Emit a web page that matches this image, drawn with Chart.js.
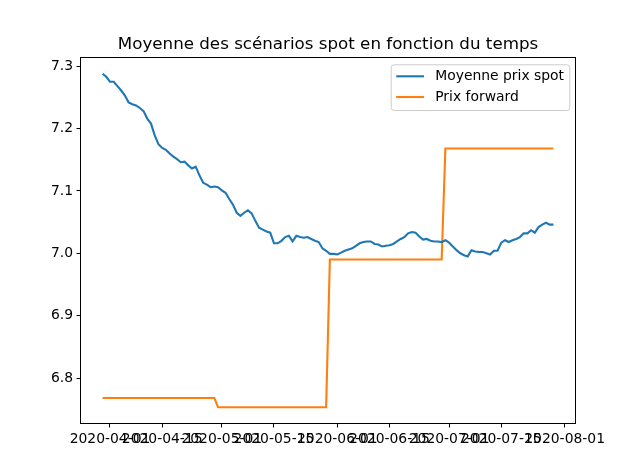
<!DOCTYPE html>
<html>
<head>
<meta charset="utf-8">
<script src="https://cdn.jsdelivr.net/npm/chart.js@4.4.1/dist/chart.umd.min.js"></script>
<style>
  html, body { margin: 0; padding: 0; background: #fff; }
  #wrap { width: 640px; height: 476px; }
</style>
</head>
<body>
<div id="wrap"><canvas id="chart" width="640" height="476"></canvas></div>
<script>
// Data (daily, 2020-03-30 .. 2020-07-29)
const START_DATE = "2020-03-30";
const SPOT = [
  7.288, 7.283, 7.275, 7.275, 7.268, 7.261, 7.253, 7.242, 7.239, 7.237,
  7.233, 7.228, 7.216, 7.208, 7.189, 7.175, 7.169, 7.166, 7.160, 7.155,
  7.151, 7.146, 7.147, 7.141, 7.136, 7.139, 7.125, 7.113, 7.110, 7.106,
  7.107, 7.106, 7.101, 7.097, 7.087, 7.078, 7.065, 7.060, 7.065, 7.069,
  7.064, 7.052, 7.041, 7.038, 7.035, 7.033, 7.016, 7.016, 7.020, 7.026,
  7.028, 7.019, 7.028, 7.026, 7.025, 7.026, 7.023, 7.020, 7.018, 7.008,
  7.004, 6.999, 6.999, 6.998, 7.001, 7.004, 7.006, 7.008, 7.012, 7.016,
  7.018, 7.019, 7.019, 7.015, 7.014, 7.011, 7.012, 7.013, 7.015, 7.019,
  7.023, 7.026, 7.032, 7.034, 7.033, 7.027, 7.022, 7.023, 7.020, 7.019,
  7.019, 7.018, 7.021, 7.017, 7.011, 7.005, 7.000, 6.997, 6.995, 7.005,
  7.003, 7.002, 7.002, 7.000, 6.998, 7.004, 7.004, 7.017, 7.021, 7.018,
  7.021, 7.023, 7.026, 7.032, 7.032, 7.037, 7.033, 7.042, 7.046, 7.049,
  7.046, 7.046,
];
const FORWARD = [
  6.768, 6.768, 6.768, 6.768, 6.768, 6.768, 6.768, 6.768, 6.768, 6.768,
  6.768, 6.768, 6.768, 6.768, 6.768, 6.768, 6.768, 6.768, 6.768, 6.768,
  6.768, 6.768, 6.768, 6.768, 6.768, 6.768, 6.768, 6.768, 6.768, 6.768,
  6.768, 6.753, 6.753, 6.753, 6.753, 6.753, 6.753, 6.753, 6.753, 6.753,
  6.753, 6.753, 6.753, 6.753, 6.753, 6.753, 6.753, 6.753, 6.753, 6.753,
  6.753, 6.753, 6.753, 6.753, 6.753, 6.753, 6.753, 6.753, 6.753, 6.753,
  6.753, 6.990, 6.990, 6.990, 6.990, 6.990, 6.990, 6.990, 6.990, 6.990,
  6.990, 6.990, 6.990, 6.990, 6.990, 6.990, 6.990, 6.990, 6.990, 6.990,
  6.990, 6.990, 6.990, 6.990, 6.990, 6.990, 6.990, 6.990, 6.990, 6.990,
  6.990, 6.990, 7.168, 7.168, 7.168, 7.168, 7.168, 7.168, 7.168, 7.168,
  7.168, 7.168, 7.168, 7.168, 7.168, 7.168, 7.168, 7.168, 7.168, 7.168,
  7.168, 7.168, 7.168, 7.168, 7.168, 7.168, 7.168, 7.168, 7.168, 7.168,
  7.168, 7.168,
];
const SERIES_LABELS = ["Moyenne prix spot", "Prix forward"];
const X_TICKS = [
  "2020-04-01", "2020-04-15", "2020-05-01", "2020-05-15", "2020-06-01",
  "2020-06-15", "2020-07-01", "2020-07-15", "2020-08-01",
];
const Y_TICKS = [6.8, 6.9, 7.0, 7.1, 7.2, 7.3];
const TITLE = "Moyenne des scénarios spot en fonction du temps";

const FONT = "'DejaVu Sans', sans-serif";
const DAY = 86400000;

const toDay = (s) => {
  const [y, m, d] = s.split("-").map(Number);
  return Date.UTC(y, m - 1, d) / DAY;
};
const fmtDay = (v) => new Date(Math.round(v) * DAY).toISOString().slice(0, 10);

const day0 = toDay(START_DATE);
const DAYS = SPOT.map((_, i) => day0 + i);

const spotPoints = DAYS.map((x, i) => ({ x, y: SPOT[i] }));
const fwdPoints = DAYS.map((x, i) => ({ x, y: FORWARD[i] }));

// matplotlib-like 5% margins
const xSpan = DAYS[DAYS.length - 1] - DAYS[0];
const allY = SPOT.concat(FORWARD);
const yLo = Math.min(...allY), yHi = Math.max(...allY);
const ySpan = yHi - yLo;

// Frame + title + legend drawn by hand, matplotlib style
const decorations = {
  id: "decorations",
  afterDatasetsDraw(chart) {
    const { ctx, chartArea: a } = chart;
    ctx.save();
    ctx.strokeStyle = "#000";
    ctx.lineWidth = 1;
    ctx.strokeRect(Math.round(a.left) + 0.5, Math.round(a.top) + 0.5,
      Math.round(a.right - a.left) - 1, Math.round(a.bottom - a.top) - 1);

    // title
    ctx.fillStyle = "#000";
    ctx.font = "16.7px " + FONT;
    ctx.textAlign = "center";
    ctx.textBaseline = "alphabetic";
    ctx.fillText(TITLE, (a.left + a.right) / 2, a.top - 8.3);

    // legend
    const bx = a.right - 185.3, by = a.top + 7.3, bw = 178.6, bh = 45.7;
    ctx.beginPath();
    ctx.roundRect(bx + 0.5, by + 0.5, bw, bh, 3);
    ctx.fillStyle = "rgba(255,255,255,0.8)";
    ctx.fill();
    ctx.strokeStyle = "#cccccc";
    ctx.stroke();
    ctx.font = "13.9px " + FONT;
    ctx.textAlign = "left";
    ctx.textBaseline = "middle";
    chart.data.datasets.forEach((ds, i) => {
      const yy = by + 12 + i * 20.7;
      ctx.beginPath();
      ctx.moveTo(bx + 5.5, yy);
      ctx.lineTo(bx + 33.3, yy);
      ctx.strokeStyle = ds.borderColor;
      ctx.lineWidth = 2.1;
      ctx.stroke();
      ctx.fillStyle = "#000";
      ctx.fillText(ds.label, bx + 44.5, yy);
    });
    ctx.restore();
  },
};

const CONFIG = {
  type: "line",
  data: {
    datasets: [
      {
        label: SERIES_LABELS[0],
        data: spotPoints,
        borderColor: "#1f77b4",
        borderWidth: 2.1,
        pointRadius: 0,
        tension: 0,
        fill: false,
      },
      {
        label: SERIES_LABELS[1],
        data: fwdPoints,
        borderColor: "#ff7f0e",
        borderWidth: 2.1,
        pointRadius: 0,
        tension: 0,
        fill: false,
      },
    ],
  },
  options: {
    responsive: false,
    animation: false,
    devicePixelRatio: 1,
    layout: { padding: { top: 57, right: 64, left: 0, bottom: 0 } },
    plugins: {
      legend: { display: false },
      title: { display: false },
      tooltip: { enabled: false },
    },
    scales: {
      x: {
        type: "linear",
        min: DAYS[0] - xSpan * 0.05,
        max: DAYS[DAYS.length - 1] + xSpan * 0.05,
        border: { display: false },
        grid: {
          drawOnChartArea: false,
          drawTicks: true,
          tickLength: 3.5,
          tickColor: "#000",
          tickWidth: 1,
        },
        afterBuildTicks: (scale) => {
          scale.ticks = X_TICKS.map((s) => ({ value: toDay(s) }));
        },
        afterFit: (scale) => { scale.height = 52; },
        ticks: {
          autoSkip: false,
          maxRotation: 0,
          minRotation: 0,
          padding: 3.5,
          color: "#000",
          font: { family: FONT, size: 13.9 },
          callback: (v) => fmtDay(v),
        },
      },
      y: {
        min: yLo - ySpan * 0.05,
        max: yHi + ySpan * 0.05,
        border: { display: false },
        grid: {
          drawOnChartArea: false,
          drawTicks: true,
          tickLength: 3.5,
          tickColor: "#000",
          tickWidth: 1,
        },
        afterBuildTicks: (scale) => {
          scale.ticks = Y_TICKS.map((v) => ({ value: v }));
        },
        afterFit: (scale) => { scale.width = 80; },
        ticks: {
          padding: 3.5,
          color: "#000",
          font: { family: FONT, size: 13.9 },
          callback: (v) => Number(v).toFixed(1),
        },
      },
    },
  },
  plugins: [decorations],
};

new Chart(document.getElementById("chart"), CONFIG);
</script>
</body>
</html>
